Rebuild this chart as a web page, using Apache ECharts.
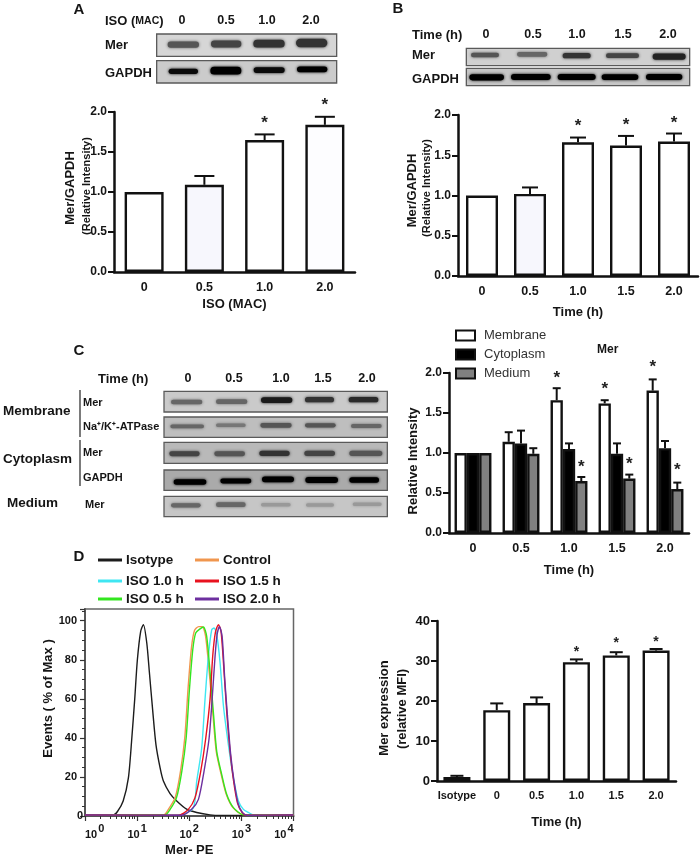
<!DOCTYPE html>
<html><head><meta charset="utf-8">
<style>html,body{margin:0;padding:0;background:#fff}#c{width:700px;height:858px}</style>
<script src="https://cdn.jsdelivr.net/npm/echarts@6/dist/echarts.min.js"></script>
</head><body><div id="c"></div>
<script>
// ---------- data ----------
const catsA = ['0','0.5','1.0','2.0'];
const meanA = [1.0,1.09,1.65,1.84];
const topA  = [null,1.20,1.72,1.94];
const starA = [null,null,1.90,2.125];

const catsTime = ['0','0.5','1.0','1.5','2.0'];
const meanB = [1.0,1.02,1.66,1.62,1.67];
const topB  = [null,1.10,1.72,1.74,1.77];
const starB = [null,null,1.90,1.91,1.94];

const membrane  = [1.0,1.14,1.66,1.62,1.78];
const membraneT = [null,1.26,1.81,1.66,1.92];
const membraneS = [null,null,1.975,1.84,2.11];
const cytoplasm  = [1.0,1.12,1.05,0.99,1.06];
const cytoplasmT = [null,1.28,1.12,1.12,1.15];
const medium  = [1.0,0.99,0.65,0.68,0.55];
const mediumT = [null,1.06,0.70,0.73,0.63];
const mediumS = [null,null,0.86,0.90,0.825];

const catsD = ['Isotype','0','0.5','1.0','1.5','2.0'];
const meanD = [1.0,17.7,19.5,29.7,31.4,32.6];
const topD  = [1.3,19.4,20.9,30.4,32.2,33.0];
const starD = [null,null,null,33.0,35.25,35.5];

const histIsotype = [[1,.5],[3.5,.5],[4.2,2.3],[5.4,7.7],[6.8,19.5],[7.9,39.7],[9,60],[10.1,79.9],[11.7,94.6],[13.2,98],[15.3,88.7],[17.2,73.5],[20,53.3],[23,36.4],[27.6,24.6],[31.9,17.9],[42.8,11.5],[57.5,7.7],[89,3.5],[139,1.8],[250,.6],[400,.3],[10000,.3]];
const histControl = [[1,.5],[32,.5],[40,3.5],[54,9.6],[68,23],[82,40],[95,65.5],[110,86],[126,95],[152,97],[178,97],[206,92],[243,73],[283,53],[330,33],[412,21],[515,11],[690,4.3],[1070,.7],[10000,.5]];
const hist10h = [[1,.5],[66.5,.5],[120,4.3],[139,17.8],[173,34.7],[201,60],[233,81.9],[270,95.4],[299,96.3],[337,92.9],[390,78.5],[452,56.6],[564,36.4],[703,19.5],[877,7.7],[1095,3.4],[1365,1.8],[1702,.6],[10000,.5]];
const hist05h = [[1,.5],[34,.5],[43,3.4],[57,9.4],[72,22.9],[87,39.7],[101,65],[117,85.3],[133,93.7],[161,95.8],[187,96.8],[216,92],[251,73.5],[290,53.2],[337,33],[420,21.2],[524,11],[703,4.3],[1095,.7],[10000,.5]];
const hist15h = [[1,.5],[62,.4],[96,3.4],[129,9.4],[166,22.9],[207,39.7],[251,60],[282,81.9],[318,94.1],[362,98],[407,94.6],[466,73.5],[524,53.2],[607,33],[703,18.6],[840,6.8],[1032,1.8],[1268,.4],[10000,.5]];
const hist20h = [[1,.5],[72,.4],[111,3.4],[150,8.5],[192,22.9],[240,39.7],[278,61.7],[313,81.9],[342,92.9],[379,97],[427,92],[480,70],[540,51.5],[625,31.3],[724,17.8],[865,6.3],[1062,1.6],[1306,.4],[10000,.5]];

const laneHeadA = ['0','0.5','1.0','2.0'];
const laneHeadT = ['0','0.5','1.0','1.5','2.0'];

// ---------- helpers ----------
const FF = '"Liberation Sans", Arial, sans-serif';
const INK = '#151515';
const txt = (x,y,s,size,weight,align,rot,color) => ({type:'text',x,y,rotation:rot||0,silent:true,z:20,
  style:{text:s,fontFamily:FF,fontSize:size,fontWeight:weight||'bold',align:align||'left',verticalAlign:'middle',fill:color||INK}});
const rtxt = (x,y,s,size,weight) => txt(x,y,s,size,weight,'center',Math.PI/2);

function blot(ox,oy,box,fill,bands){
  const els=[];
  els.push({type:'rect',silent:true,z:5,shape:{x:ox+box[0]/3,y:oy+box[1]/3,width:(box[2]-box[0])/3,height:(box[3]-box[1])/3},
    style:{fill,stroke:'#5a5a5a',lineWidth:1.3}});
  bands.forEach(b=>{
    const h=b[3]/3*1.15;
    els.push({type:'rect',silent:true,z:6,shape:{x:ox+b[0]/3+1,y:oy+b[2]/3-h/2,width:(b[1]-b[0])/3-2,height:h,r:h/2},
      style:{fill:b[4],shadowBlur:3,shadowColor:b[4]}});
  });
  return els;
}
const bandGraphics = [
  ...blot(155,28,[5,18,545,85],'#d6d6d6',[[35,135,50,16,'#555'],[165,262,48,18,'#444'],[292,392,47,20,'#333'],[420,520,45,22,'#333']]),
  ...blot(155,28,[5,98,545,165],'#cbcbcb',[[38,132,130,14,'#0a0a0a'],[163,262,128,20,'#000'],[293,392,126,15,'#0a0a0a'],[423,520,124,15,'#000']]),
  ...blot(350,0,[349,145,1019,197],'#d0d0d0',[[360,450,165,12,'#555'],[498,595,163,12,'#666'],[635,725,167,14,'#333'],[765,870,167,12,'#444'],[905,1010,170,16,'#222']]),
  ...blot(350,0,[349,205,1019,257],'#c6c6c6',[[355,465,232,16,'#000'],[480,605,231,16,'#000'],[620,740,231,16,'#000'],[752,868,231,15,'#000'],[885,1000,231,16,'#000']]),
  ...blot(160,388,[12,10,682,72],'#cacaca',[[30,130,42,12,'#666'],[165,265,41,12,'#666'],[300,400,36,15,'#1a1a1a'],[432,525,35,14,'#333'],[563,658,35,14,'#2a2a2a']]),
  ...blot(160,388,[12,87,682,148],'#bebebe',[[28,135,115,10,'#666'],[165,260,112,9,'#777'],[298,398,112,12,'#555'],[432,530,112,11,'#555'],[570,668,114,10,'#666']]),
  ...blot(160,388,[12,163,682,226],'#b9b9b9',[[25,122,197,13,'#444'],[160,258,197,13,'#555'],[295,392,196,14,'#333'],[430,528,196,14,'#444'],[565,670,196,14,'#555']]),
  ...blot(160,388,[12,246,682,307],'#aaaaaa',[[38,142,282,14,'#000'],[178,277,279,13,'#000'],[303,405,274,15,'#000'],[433,537,276,16,'#000'],[565,660,276,14,'#000']]),
  ...blot(160,388,[12,325,682,386],'#c6c6c6',[[30,125,352,11,'#666'],[165,260,350,12,'#666'],[300,395,350,9,'#999'],[435,525,351,9,'#999'],[575,668,349,9,'#999']]),
];

const headA=[182,226,267,311], headB=[486,533,577,623,668], headC=[188,234,281,323,367];
const graphics = [
  ...bandGraphics,
  txt(79,10,'A',15,'bold','center'), txt(398,9,'B',15,'bold','center'), txt(79,351,'C',15,'bold','center'), txt(79,557,'D',15,'bold','center'),
  {type:'text',x:105,y:21,z:20,silent:true,style:{text:'{a|ISO (}{b|MAC}{a|)}',verticalAlign:'middle',rich:{a:{fontFamily:FF,fontSize:13,fontWeight:'bold',fill:INK},b:{fontFamily:FF,fontSize:10.5,fontWeight:'bold',fill:INK}}}},
  ...laneHeadA.map((s,i)=>txt(headA[i],21,s,12.5,'bold','center')),
  txt(105,45,'Mer',13), txt(105,73,'GAPDH',13),
  txt(412,35,'Time (h)',13), ...laneHeadT.map((s,i)=>txt(headB[i],35,s,12.5,'bold','center')),
  txt(412,55,'Mer',13), txt(412,79,'GAPDH',13),
  txt(98,379,'Time (h)',13), ...laneHeadT.map((s,i)=>txt(headC[i],379,s,12.5,'bold','center')),
  txt(3,411,'Membrane',13.5), txt(3,459,'Cytoplasm',13.5), txt(7,503,'Medium',13.5),
  txt(83,403,'Mer',11), txt(83,427,'Na\u207a/K\u207a-ATPase',11), txt(83,453,'Mer',11), txt(83,478,'GAPDH',11), txt(85,505,'Mer',11),
  {type:'line',silent:true,z:20,shape:{x1:80,y1:390,x2:80,y2:437},style:{stroke:'#222',lineWidth:1.2}},
  {type:'line',silent:true,z:20,shape:{x1:80,y1:440,x2:80,y2:486},style:{stroke:'#222',lineWidth:1.2}},
  txt(597,350,'Mer',12),
  rtxt(87,186,'(Relative Intensity)',11), rtxt(427,188,'(Relative Intensity)',11),
  rtxt(402,709,'(relative MFI)',13),
];

const yAxisStyle = (grid,max,interval,name,gap,pad,fmt,size) => ({type:'value',gridIndex:grid,min:0,max,interval,name,nameLocation:'middle',nameGap:gap,
  nameTextStyle:{fontFamily:FF,fontSize:13,fontWeight:'bold',color:INK,padding:pad||0},
  axisLine:{show:true,lineStyle:{color:'#111',width:2.5}},axisTick:{show:true,length:6,lineStyle:{color:'#111',width:2}},
  axisLabel:{fontFamily:FF,fontSize:size||12,fontWeight:'bold',color:INK,margin:7,formatter:fmt||(v=>v.toFixed(1))},splitLine:{show:false}});
const xAxisStyle = (grid,cats,name,gap,lab,size,margin) => ({type:'category',gridIndex:grid,data:cats,name,nameLocation:'middle',nameGap:gap,
  nameTextStyle:{fontFamily:FF,fontSize:13,fontWeight:'bold',color:INK},
  axisLine:{show:true,lineStyle:{color:'#111',width:2.5}},axisTick:{show:false},
  axisLabel:{fontFamily:FF,fontSize:size||12.5,fontWeight:'bold',color:INK,margin:margin||9,interval:0},splitLine:{show:false}});

const barSeries = (grid,name,vals,width,fills,stroke) => ({type:'bar',name,xAxisIndex:grid,yAxisIndex:grid,barWidth:width,barGap:0,z:3,
  itemStyle:{color:Array.isArray(fills)?fills[0]:fills,borderColor:stroke||'#111',borderWidth:2.4},
  data:vals.map((v,i)=>({value:v,itemStyle:{color:Array.isArray(fills)?fills[i]:fills,borderColor:stroke||'#111',borderWidth:2.4}}))});

const errSeries = (grid,tops,bases,offset,cap) => ({type:'custom',xAxisIndex:grid,yAxisIndex:grid,z:2,silent:true,
  data:tops.map((t,i)=>[i,t,bases[i]]).filter(d=>d[1]!=null),
  renderItem:(p,api)=>{
    const a=api.coord([api.value(0),api.value(2)]), b=api.coord([api.value(0),api.value(1)]);
    const x=a[0]+offset, s={stroke:'#111',lineWidth:2};
    return {type:'group',children:[
      {type:'line',shape:{x1:x,y1:a[1],x2:x,y2:b[1]},style:s},
      {type:'line',shape:{x1:x-cap/2,y1:b[1],x2:x+cap/2,y2:b[1]},style:s}]};
  }});
const starSeries = (grid,stars,offset,size) => ({type:'custom',xAxisIndex:grid,yAxisIndex:grid,z:4,silent:true,
  data:stars.map((t,i)=>[i,t]).filter(d=>d[1]!=null),
  renderItem:(p,api)=>{
    const a=api.coord([api.value(0),api.value(1)]);
    return {type:'text',x:a[0]+offset,y:a[1]+size*0.2,style:{text:'*',fontFamily:FF,fontSize:size,fontWeight:'bold',fill:'#222',align:'center',verticalAlign:'middle'}};
  }});

const histColors={Isotype:'#1c1c1c',Control:'#f0964e','ISO 1.0 h':'#3fe6f2','ISO 0.5 h':'#33e61f','ISO 1.5 h':'#e8121f','ISO 2.0 h':'#6d2f9f'};
const lineSeries = (name,d) => ({type:'line',name,xAxisIndex:3,yAxisIndex:3,data:d,showSymbol:false,symbol:'none',smooth:0.25,clip:true,z:3,
  lineStyle:{color:histColors[name],width:1.4},itemStyle:{color:histColors[name]}});
const legendOne = (name,left,y) => ({show:true,data:[name],left,top:y-6,itemWidth:24,itemHeight:3,selectedMode:false,padding:0,icon:'rect',itemGap:4,
  textStyle:{fontFamily:FF,fontSize:13.5,fontWeight:'bold',color:INK,padding:[0,0,0,-1]}});
const legendBar = (name,y) => ({show:true,data:[{name,icon:'rect'}],left:455,top:y-6,itemWidth:19,itemHeight:10,selectedMode:false,padding:0,
  textStyle:{fontFamily:FF,fontSize:13,color:'#333',padding:[0,0,0,4]}});

const W='#ffffff', L='#f7f7fd';
const option = {
  animation:false,backgroundColor:'#fff',textStyle:{fontFamily:FF},
  graphic:{elements:graphics},
  legend:[
    legendBar('Membrane',335),legendBar('Cytoplasm',354),legendBar('Medium',373),
    legendOne('Isotype',98,559),legendOne('Control',195,559),legendOne('ISO 1.0 h',98,580),legendOne('ISO 1.5 h',195,580),legendOne('ISO 0.5 h',98,598),legendOne('ISO 2.0 h',195,598),
  ],
  grid:[
    {left:114,top:112,width:241,height:160},
    {left:458,top:115,width:240,height:161},
    {left:449,top:373,width:240,height:160},
    {left:85,top:609,width:208.5,height:209.5,show:true,borderColor:'#666',borderWidth:1.5,backgroundColor:'transparent'},
    {left:437,top:621,width:239,height:160},
  ],
  xAxis:[
    xAxisStyle(0,catsA,'ISO (MAC)',26),
    xAxisStyle(1,catsTime,'Time (h)',30),
    xAxisStyle(2,catsTime,'Time (h)',31),
    {type:'log',logBase:10,gridIndex:3,min:1,max:10000,name:'Mer- PE',nameLocation:'middle',nameGap:28,
      nameTextStyle:{fontFamily:FF,fontSize:13,fontWeight:'bold',color:INK},
      axisLine:{show:true,lineStyle:{color:'#555',width:2}},axisTick:{show:true,length:5,lineStyle:{color:'#333',width:1.2}},
      minorTick:{show:true,splitNumber:9,length:3,lineStyle:{color:'#333',width:1}},splitLine:{show:false},minorSplitLine:{show:false},
      axisLabel:{margin:7,alignMinLabel:'left',alignMaxLabel:'right',
        formatter:v=>'{a|10}{s|'+Math.round(Math.log10(v))+'}',
        rich:{a:{fontFamily:FF,fontSize:11,fontWeight:'bold',color:INK,padding:[6,0,0,0]},s:{fontFamily:FF,fontSize:11,fontWeight:'bold',color:INK,padding:[0,0,6,1]}}}},
    xAxisStyle(4,catsD,'Time (h)',35,null,11,9),
  ],
  yAxis:[
    yAxisStyle(0,2,0.5,'Mer/GAPDH',37,[0,0,0,8]),
    yAxisStyle(1,2,0.5,'Mer/GAPDH',39,[0,0,0,10]),
    yAxisStyle(2,2,0.5,'Relative Intensity',29,[0,16,0,0]),
    {type:'value',gridIndex:3,min:0,max:106,interval:20,name:'Events ( % of Max )',nameLocation:'middle',nameGap:30,
      nameTextStyle:{fontFamily:FF,fontSize:13,fontWeight:'bold',color:INK,padding:[0,0,0,28]},
      axisLine:{show:true,lineStyle:{color:'#555',width:2}},axisTick:{show:true,length:5,lineStyle:{color:'#333',width:1.2}},
      minorTick:{show:true,splitNumber:4,length:3,lineStyle:{color:'#333',width:1}},splitLine:{show:false},minorSplitLine:{show:false},
      axisLabel:{fontFamily:FF,fontSize:11,fontWeight:'bold',color:INK,margin:8,alignMinLabel:'bottom',formatter:v=>v%20===0?String(v):''}},
    yAxisStyle(4,40,10,'Mer expression',46,[0,14,0,0],v=>String(v),13),
  ],
  series:[
    errSeries(0,topA,meanA,0,20), barSeries(0,'A',meanA,39,[W,L,W,'#fdfdff']), starSeries(0,starA,0,17),
    errSeries(1,topB,meanB,0,16), barSeries(1,'B',meanB,32,[W,L,W,W,W]), starSeries(1,starB,0,17),
    barSeries(2,'Membrane',membrane,12.3,W), barSeries(2,'Cytoplasm',cytoplasm,12.3,'#000'), barSeries(2,'Medium',medium,12.3,'#808080'),
    errSeries(2,membraneT,membrane,-12.3,8), errSeries(2,cytoplasmT,cytoplasm,0,8), errSeries(2,mediumT,medium,12.3,8),
    starSeries(2,membraneS,-12.3,17), starSeries(2,mediumS,12.3,17),
    lineSeries('Isotype',histIsotype), lineSeries('Control',histControl), lineSeries('ISO 1.0 h',hist10h), lineSeries('ISO 0.5 h',hist05h), lineSeries('ISO 1.5 h',hist15h), lineSeries('ISO 2.0 h',hist20h),
    errSeries(4,topD,meanD,0,13), barSeries(4,'D',meanD,27,W), starSeries(4,starD,0,14),
  ],
};
echarts.init(document.getElementById('c'),null,{renderer:'canvas'}).setOption(option);
</script></body></html>
